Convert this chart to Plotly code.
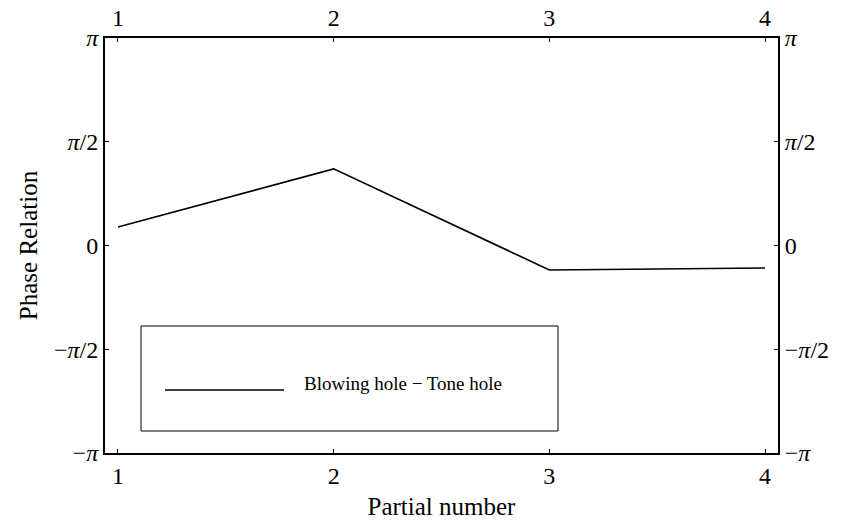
import numpy as np
import plotly.graph_objects as go

partials = [1, 2, 3, 4]
phase = [0.28, 1.16, -0.37, -0.34]
series_name = "Blowing hole \u2212 Tone hole"
ytick_vals = [-np.pi, -np.pi / 2, 0, np.pi / 2, np.pi]
ytick_text = ["\u2212<i>\u03c0</i>", "\u2212<i>\u03c0</i>/2", "0", "<i>\u03c0</i>/2", "<i>\u03c0</i>"]
xtick_vals = [1, 2, 3, 4]

font = "Liberation Serif"

fig = go.Figure()
fig.add_trace(go.Scatter(x=partials, y=phase, mode="lines",
                         line=dict(color="black", width=1.6), showlegend=False))
fig.add_trace(go.Scatter(x=partials, y=phase, mode="lines", xaxis="x2", yaxis="y2",
                         line=dict(color="rgba(0,0,0,0)", width=0), showlegend=False,
                         hoverinfo="skip"))

axis_common = dict(showgrid=False, zeroline=False, showline=True, linecolor="black",
                   linewidth=2, ticks="inside", ticklen=4, tickwidth=1, tickcolor="black",
                   automargin=False,
                   tickfont=dict(family=font, size=24, color="black"))

xr = [0.94, 4.06]
yr = [-np.pi, np.pi]
fig.update_layout(
    width=845, height=520,
    margin=dict(l=105, r=67, t=38, b=67),
    paper_bgcolor="white", plot_bgcolor="white",
    font=dict(family=font, color="black"),
    xaxis=dict(range=xr, tickvals=xtick_vals, ticktext=[str(v) for v in xtick_vals],
               title=dict(text="Partial number", font=dict(family=font, size=25), standoff=10),
               **axis_common),
    xaxis2=dict(range=xr, overlaying="x", side="top", matches="x", tickvals=xtick_vals,
                ticktext=[str(v) for v in xtick_vals], **axis_common),
    yaxis=dict(range=yr, tickvals=ytick_vals, ticktext=ytick_text,
               title=dict(text="Phase Relation", font=dict(family=font, size=25), standoff=9),
               **axis_common),
    yaxis2=dict(range=yr, overlaying="y", side="right", matches="y", tickvals=ytick_vals,
                ticktext=ytick_text, **axis_common),
)

# legend box (paper coordinates)
pw = 845 - 105 - 67
ph = 520 - 38 - 67
def px(x):
    return (x - 105) / pw
def py(y):
    return 1 - (y - 38) / ph

fig.add_shape(type="rect", xref="paper", yref="paper",
              x0=px(141), x1=px(558), y0=py(431), y1=py(326),
              line=dict(color="black", width=1), fillcolor="white")
fig.add_shape(type="line", xref="paper", yref="paper",
              x0=px(165), x1=px(284), y0=py(390), y1=py(390),
              line=dict(color="black", width=1.5))
fig.add_annotation(xref="paper", yref="paper", x=px(302), y=py(383), xanchor="left",
                   yanchor="middle", text=series_name, showarrow=False,
                   font=dict(family=font, size=19, color="black"))

fig.write_html("out.html")
